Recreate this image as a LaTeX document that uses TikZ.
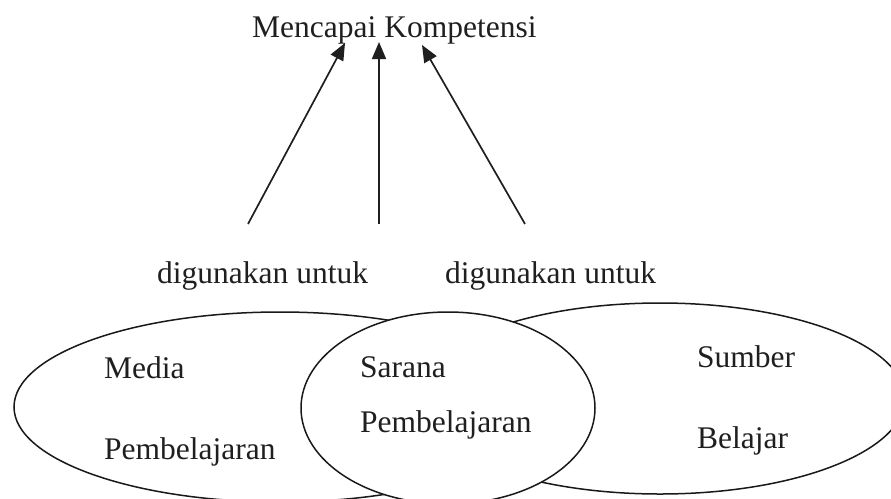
\documentclass[tikz,border=0pt]{standalone}
\usepackage{fontspec}
\setmainfont{Liberation Serif}
\usetikzlibrary{arrows.meta,shapes.geometric}

\tikzset{
  label/.style={anchor=base west, inner sep=0pt, font=\fontsize{31.5}{38}\selectfont, text=black!88},
  ring/.style={ellipse, draw=black!90, line width=1.5pt, inner sep=0pt},
  arrowline/.style={draw=black!88, line width=1.7pt, -{Triangle[length=17pt,width=14pt]}},
}

\begin{document}
\begin{tikzpicture}[x=1pt, y=-1pt]
  % page frame
  \useasboundingbox (0,0) rectangle (891,498);
  \clip (0,0) rectangle (891,498);

  % the three overlapping ellipses; the middle one is drawn last, filled white
  \node[ring, minimum width=532pt, minimum height=190pt] (media) at (280,407) {};
  \node[ring, minimum width=490pt, minimum height=191pt] (sumber) at (660,398.5) {};
  \node[ring, fill=white, minimum width=294pt, minimum height=192pt] (sarana) at (448,408) {};

  % title and captions
  \node[label] (goal) at (252,37) {Mencapai Kompetensi};
  \node[label] (use1) at (157,283) {digunakan untuk};
  \node[label] (use2) at (445,283) {digunakan untuk};

  % texts inside the ellipses
  \node[label] (t1) at (104,378) {Media};
  \node[label] (t2) at (104,459) {Pembelajaran};
  \node[label] (t3) at (360,377) {Sarana};
  \node[label] (t4) at (360,432) {Pembelajaran};
  \node[label] (t5) at (697,367) {Sumber};
  \node[label] (t6) at (697,448) {Belajar};

  % arrows up to the goal
  \coordinate (a1) at (248,224);
  \coordinate (a2) at (379,224);
  \coordinate (a3) at (525,224);
  \coordinate (h1) at (345,43);
  \coordinate (h2) at (379,42);
  \coordinate (h3) at (422,45);
  \draw[arrowline] (a1) -- (h1);
  \draw[arrowline] (a2) -- (h2);
  \draw[arrowline] (a3) -- (h3);
\end{tikzpicture}
\end{document}
